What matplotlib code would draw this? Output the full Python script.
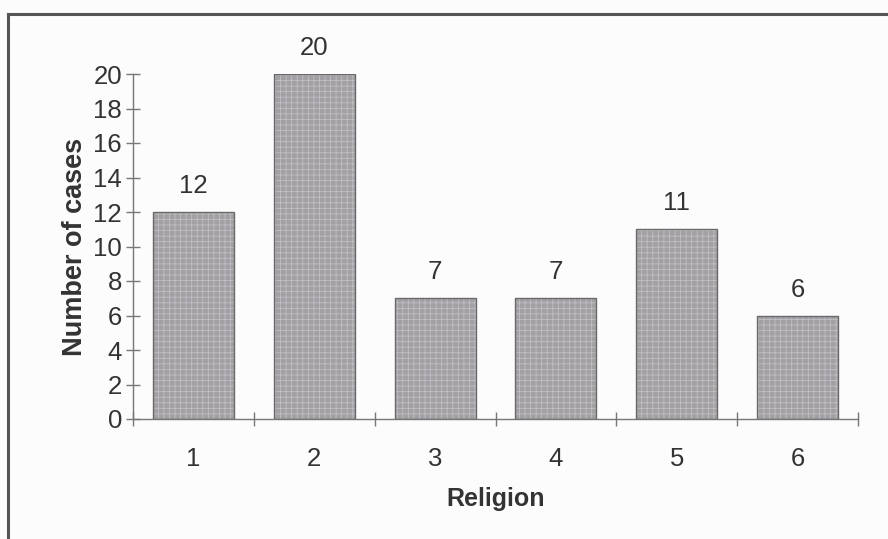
import matplotlib
matplotlib.use("Agg")
import matplotlib.pyplot as plt
from matplotlib.lines import Line2D

plt.rcParams['font.family'] = ['Liberation Sans', 'DejaVu Sans']
plt.rcParams['hatch.linewidth'] = 0.6

categories = ["1", "2", "3", "4", "5", "6"]
cases = [12, 20, 7, 7, 11, 6]
y_ticks = [0, 2, 4, 6, 8, 10, 12, 14, 16, 18, 20]

W, H = 888, 539
fig = plt.figure(figsize=(W / 100, H / 100), dpi=100, facecolor='#fcfcfc')

# outer chart frame (top and left edges visible)
fig.add_artist(Line2D([8 / W, 1.0], [1 - 14 / H, 1 - 14 / H], transform=fig.transFigure,
                      color='#555555', lw=2.2))
fig.add_artist(Line2D([8 / W, 8 / W], [0, 1 - 14 / H], transform=fig.transFigure,
                      color='#555555', lw=2.2))

left, right = 133 / W, 858 / W
bottom, top = 1 - 419 / H, 1 - 74 / H
ax = fig.add_axes([left, bottom, right - left, top - bottom])
ax.set_facecolor('none')

x = list(range(len(categories)))
# textured fill
ax.bar(x, cases, width=0.67, color='#a3a0a4', edgecolor='#c2bfc4', hatch='+++',
       linewidth=0, zorder=2)
# outline
ax.bar(x, cases, width=0.67, fill=False, edgecolor='#6a686b', linewidth=1.0, zorder=3)

for xi, v in zip(x, cases):
    ax.annotate(str(v), (xi, v), xytext=(0, 10), textcoords='offset points',
                ha='center', va='bottom', fontsize=18.5, color='#333333')

ax.set_xlim(-0.5, len(categories) - 0.5)
ax.set_ylim(0, 20)

for s in ['top', 'right']:
    ax.spines[s].set_visible(False)
for s in ['left', 'bottom']:
    ax.spines[s].set_color('#777777')
    ax.spines[s].set_linewidth(1.0)

ax.set_yticks(y_ticks)
ax.set_yticklabels([str(t) for t in y_ticks])
ax.tick_params(axis='y', direction='inout', length=10, width=1.0, color='#777777',
               labelsize=18.5, labelcolor='#333333', pad=3)

# category boundaries carry the tick marks, labels sit at the bar centres
ax.set_xticks([i - 0.5 for i in range(len(categories) + 1)])
ax.set_xticklabels([])
ax.set_xticks(x, minor=True)
ax.set_xticklabels(categories, minor=True)
ax.tick_params(axis='x', which='major', direction='inout', length=10, width=1.0,
               color='#777777')
ax.tick_params(axis='x', which='minor', length=0, labelsize=18.5, labelcolor='#333333',
               pad=20.5)

ax.set_xlabel('Religion', fontsize=18, fontweight='bold', color='#333333', labelpad=11.5)
ax.set_ylabel('Number of cases', fontsize=19.5, fontweight='bold', color='#333333',
              labelpad=4)

fig.savefig('out.png', dpi=100, facecolor=fig.get_facecolor())
